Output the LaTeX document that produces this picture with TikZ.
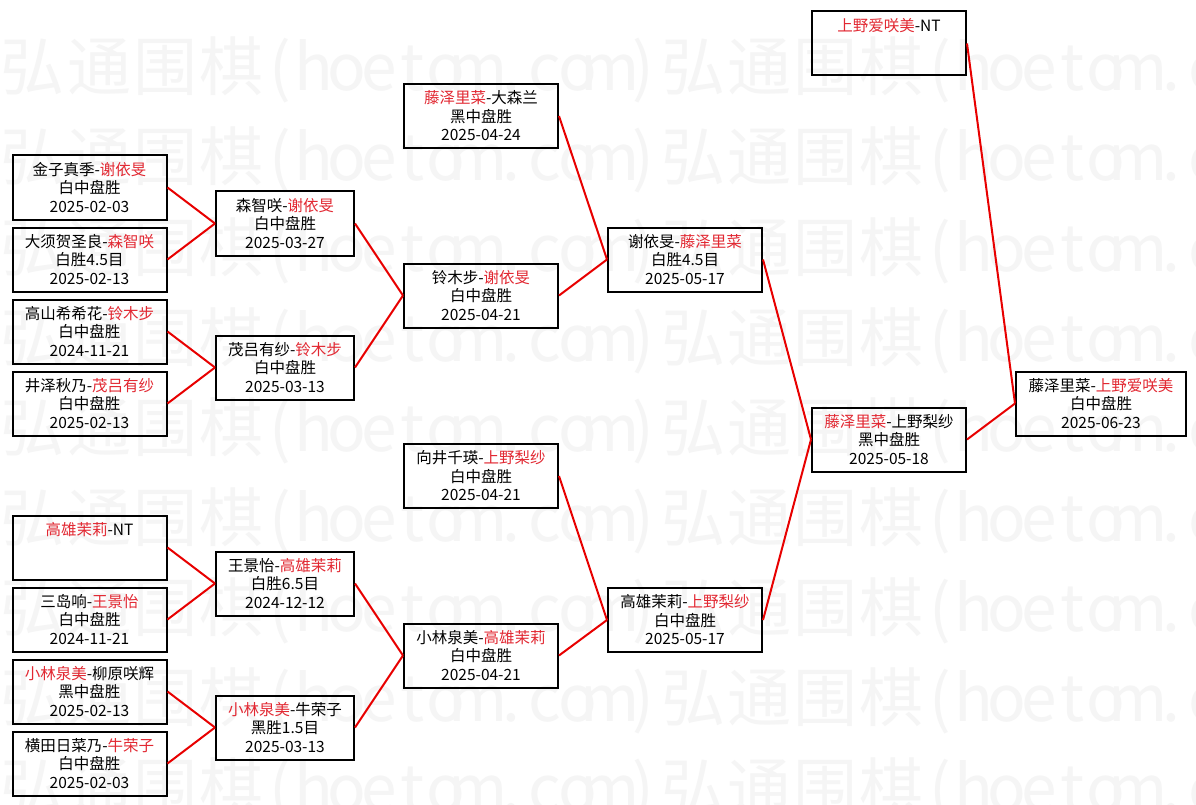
\documentclass[tikz,border=0pt]{standalone}
\usepackage{fontspec}
\setmainfont{Noto Sans CJK SC}
\definecolor{winred}{RGB}{226,40,50}
\definecolor{linered}{RGB}{232,0,0}
\definecolor{wmgray}{RGB}{245,245,245}
\newcommand\win[1]{\textcolor{winred}{#1}}
\tikzset{
  game/.style={draw=black, line width=2pt, minimum width=#1, minimum height=64pt,
    inner sep=0pt, align=center, anchor=north west,
    font=\fontsize{15.5}{18.5}\selectfont},
  link/.style={draw=linered, line width=2pt},
  wm/.style={text=wmgray, font=\fontsize{64}{64}\selectfont, inner sep=0pt, anchor=base}
}
\begin{document}
\begin{tikzpicture}[x=1pt,y=-1pt]
\fill[white] (0,0) rectangle (1196,805);
\useasboundingbox (0,0) rectangle (1196,805);
% watermark
\begin{scope}
\clip (0,0) rectangle (1196,805);
\foreach \r in {0,...,8}{
  \foreach \p in {0,1}{
    \foreach \ch [count=\i from 0] in {弘,通,围,棋}
      \node[wm] (wc-\r-\p-\i) at ({\p*660+\i*66+33},{91+\r*90}) {\ch};
    \node[wm] (wlp-\r-\p) at ({\p*660+264+16.5},{91+\r*90}) {(};
    \foreach \ch [count=\i from 1] in {h,o,e,t,o,m,.,c,o,m}
      \node[wm] (wl-\r-\p-\i) at ({\p*660+264+\i*33+16.5},{91+\r*90}) {\ch};
    \node[wm] (wrp-\r-\p) at ({\p*660+264+11*33+16.5},{91+\r*90}) {)};
  }
}
\end{scope}
% column 1
\node[game=154pt] (b1) at (11.5,154.5) {金子真季-\win{谢依旻}\\白中盘胜\\2025-02-03};
\node[game=154pt] (b2) at (11.5,226.5) {大须贺圣良-\win{森智咲}\\白胜4.5目\\2025-02-13};
\node[game=154pt] (b3) at (11.5,298.5) {高山希希花-\win{铃木步}\\白中盘胜\\2024-11-21};
\node[game=154pt] (b4) at (11.5,370.5) {井泽秋乃-\win{茂吕有纱}\\白中盘胜\\2025-02-13};
\node[game=154pt] (b5) at (11.5,514.5) {\win{高雄茉莉}-NT\\\mbox{}\\\mbox{}};
\node[game=154pt] (b6) at (11.5,586.5) {三岛响-\win{王景怡}\\白中盘胜\\2024-11-21};
\node[game=154pt] (b7) at (11.5,658.5) {\win{小林泉美}-柳原咲辉\\黑中盘胜\\2025-02-13};
\node[game=154pt] (b8) at (11.5,730.5) {横田日菜乃-\win{牛荣子}\\白中盘胜\\2025-02-03};
% column 2
\node[game=138pt] (c1) at (215,190.5) {森智咲-\win{谢依旻}\\白中盘胜\\2025-03-27};
\node[game=138pt] (c2) at (215,334.5) {茂吕有纱-\win{铃木步}\\白中盘胜\\2025-03-13};
\node[game=138pt] (c3) at (215,550.5) {王景怡-\win{高雄茉莉}\\白胜6.5目\\2024-12-12};
\node[game=138pt] (c4) at (215,694.5) {\win{小林泉美}-牛荣子\\黑胜1.5目\\2025-03-13};
% column 3
\node[game=154pt] (d0) at (403,83) {\win{藤泽里菜}-大森兰\\黑中盘胜\\2025-04-24};
\node[game=154pt] (d1) at (403,262.5) {铃木步-\win{谢依旻}\\白中盘胜\\2025-04-21};
\node[game=154pt] (d2) at (403,443) {向井千瑛-\win{上野梨纱}\\白中盘胜\\2025-04-21};
\node[game=154pt] (d3) at (403,622.5) {小林泉美-\win{高雄茉莉}\\白中盘胜\\2025-04-21};
% column 4
\node[game=154pt] (e1) at (607,226.5) {谢依旻-\win{藤泽里菜}\\白胜4.5目\\2025-05-17};
\node[game=154pt] (e2) at (607,587) {高雄茉莉-\win{上野梨纱}\\白中盘胜\\2025-05-17};
% column 5
\node[game=154pt] (f0) at (811,10.5) {\win{上野爱咲美}-NT\\\mbox{}\\\mbox{}};
\node[game=154pt] (f1) at (811,406.5) {\win{藤泽里菜}-上野梨纱\\黑中盘胜\\2025-05-18};
% column 6
\node[game=170pt] (g) at (1015,370.5) {藤泽里菜-\win{上野爱咲美}\\白中盘胜\\2025-06-23};
% connectors
\draw[link] (b1.east) -- (c1.west);
\draw[link] (b2.east) -- (c1.west);
\draw[link] (b3.east) -- (c2.west);
\draw[link] (b4.east) -- (c2.west);
\draw[link] (b5.east) -- (c3.west);
\draw[link] (b6.east) -- (c3.west);
\draw[link] (b7.east) -- (c4.west);
\draw[link] (b8.east) -- (c4.west);
\draw[link] (c1.east) -- (d1.west);
\draw[link] (c2.east) -- (d1.west);
\draw[link] (c3.east) -- (d3.west);
\draw[link] (c4.east) -- (d3.west);
\draw[link] (d0.east) -- (e1.west);
\draw[link] (d1.east) -- (e1.west);
\draw[link] (d2.east) -- (e2.west);
\draw[link] (d3.east) -- (e2.west);
\draw[link] (e1.east) -- (f1.west);
\draw[link] (e2.east) -- (f1.west);
\draw[link] (f0.east) -- (g.west);
\draw[link] (f1.east) -- (g.west);
\end{tikzpicture}
\end{document}
